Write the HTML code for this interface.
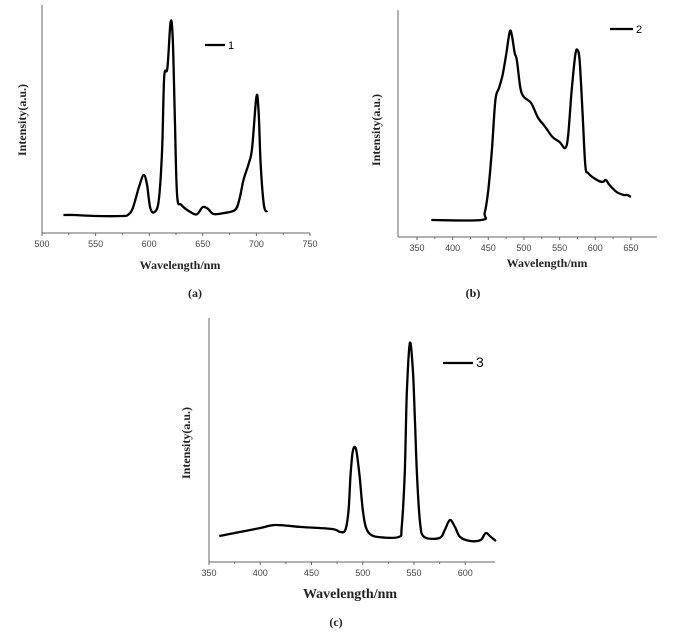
<!DOCTYPE html>
<html><head><meta charset="utf-8"><style>
body{margin:0;background:#fff}
svg text{font-family:"Liberation Sans",sans-serif}
.t{font-size:9px;fill:#444}
.ti{font-family:"Liberation Serif",serif!important;font-weight:bold;font-size:12px;fill:#222}
</style></head><body>
<svg id="s" width="684" height="632" xmlns="http://www.w3.org/2000/svg"></svg>
<script>
const xA=[520,530,550,575,580,584,587,591,595,598,601,605,609,612,614,617,620,622,624,626,630,640,645,650,655,660,670,680,684,688,693,696,700,702,704,707,710];
const yA=[18,18,17,17,18,23,33,48,58,48,25,21,33,83,156,165,211,193,113,38,28,20,19,26,24,19,20,23,33,53,70,85,136,123,68,28,21];
const ticksA=[500,550,600,650,700,750];
const xB=[370,440,445,450,455,460,465,470,475,480,483,487,490,495,500,510,520,530,540,550,558,562,567,572,575,578,582,586,590,600,610,615,620,630,640,645,650];
const yB=[17,17,24,47,87,137,149,162,182,205,202,184,177,149,140,134,119,110,100,95,89,102,147,182,187,177,127,72,64,58,55,57,52,45,42,42,40];
const ticksB=[350,400,450,500,550,600,650];
const xC=[360,370,380,400,415,440,470,478,483,486,488,490,492,494,497,500,503,507,515,535,538,541,543,546,549,551,553,556,560,575,580,585,590,595,605,615,620,625,630];
const yC=[26,28,30,34,37,35,33,30,32,50,85,109,115,110,85,52,35,28,25,25,35,90,169,219,190,140,85,39,25,24,32,42,35,25,21,22,29,25,21];
const ticksC=[350,400,450,500,550,600];
const NS="http://www.w3.org/2000/svg",S=document.getElementById('s');
function mk(t,a,txt){const e=document.createElementNS(NS,t);for(const k in a)e.setAttribute(k,a[k]);if(txt!=null)e.textContent=txt;S.appendChild(e);return e;}
function smooth(P){let d='M'+P[0][0].toFixed(1)+','+P[0][1].toFixed(1);
 for(let i=0;i<P.length-1;i++){const p0=P[Math.max(0,i-1)],p1=P[i],p2=P[i+1],p3=P[Math.min(P.length-1,i+2)];
  const c1=[p1[0]+(p2[0]-p0[0])/6,p1[1]+(p2[1]-p0[1])/6],c2=[p2[0]-(p3[0]-p1[0])/6,p2[1]-(p3[1]-p1[1])/6];
  d+='C'+c1.map(v=>v.toFixed(1))+' '+c2.map(v=>v.toFixed(1))+' '+p2.map(v=>v.toFixed(1));}
 return d;}
function panel(p){
 const X=v=>p.x0+(v-p.v0)*p.k, Y=v=>p.yb-v;
 let e=mk('line',{x1:p.ax,y1:p.top,x2:p.ax,y2:p.yb,stroke:'#666','stroke-width':1});
 
 e=mk('line',{x1:p.ax,y1:p.yb,x2:p.axEnd,y2:p.yb,stroke:'#666','stroke-width':1});
 
 p.ticks.forEach((t,i)=>{
  e=mk('line',{x1:X(t),y1:p.yb,x2:X(t),y2:p.yb+3,stroke:'#666'});
  
  if(i<p.ticks.length-1){e=mk('line',{x1:X(t+25),y1:p.yb,x2:X(t+25),y2:p.yb+2,stroke:'#666'});
  }
  e=mk('text',{x:X(t),y:p.yb+14,'text-anchor':'middle',class:'t'},t);
  
 });
 e=mk('path',{d:smooth(p.xs.map((v,i)=>[X(v),Y(p.ys[i])])),fill:'none',stroke:'#000','stroke-width':2.3,'stroke-linejoin':'round'});
 
 e=mk('line',{x1:p.lg[0],y1:p.lg[2],x2:p.lg[1],y2:p.lg[2],stroke:'#000','stroke-width':2.2});
 
 e=mk('text',{x:p.lg[1]+3,y:p.lg[2]+4,style:'font-size:'+p.lf+'px'},p.lbl);
 
 e=mk('text',{x:p.yl[0],y:p.yl[1],'text-anchor':'middle',class:'ti',transform:`rotate(-90 ${p.yl[0]} ${p.yl[1]})`},'Intensity(a.u.)');
 
 e=mk('text',{x:p.xl[0],y:p.xl[1],'text-anchor':'middle',class:'ti',style:'font-size:'+p.tf+'px'},'Wavelength/nm');
 
 e=mk('text',{x:p.cap[0],y:p.cap[1],'text-anchor':'middle',class:'ti'},p.cl);
 
}
panel({id:'panel-a',x0:42,v0:500,k:1.072,ax:42,axEnd:310,top:5,yb:233,ticks:ticksA,xs:xA,ys:yA,lg:[205,225,45],lbl:'1',lf:11,yl:[26,120],xl:[180,269],tf:12,cap:[195,297],cl:'(a)'});
panel({id:'panel-b',x0:417,v0:350,k:0.713,ax:398,axEnd:657,top:10,yb:237,ticks:ticksB,xs:xB,ys:yB,lg:[610,633,29],lbl:'2',lf:11,yl:[380,130],xl:[547,267],tf:12,cap:[473,297],cl:'(b)'});
panel({id:'panel-c',x0:209,v0:350,k:1.025,ax:209,axEnd:495,top:318,yb:562,ticks:ticksC,xs:xC,ys:yC,lg:[443,473,363],lbl:'3',lf:14,yl:[190,443],xl:[350,598],tf:14,cap:[336,626],cl:'(c)'});
</script>
</body></html>
